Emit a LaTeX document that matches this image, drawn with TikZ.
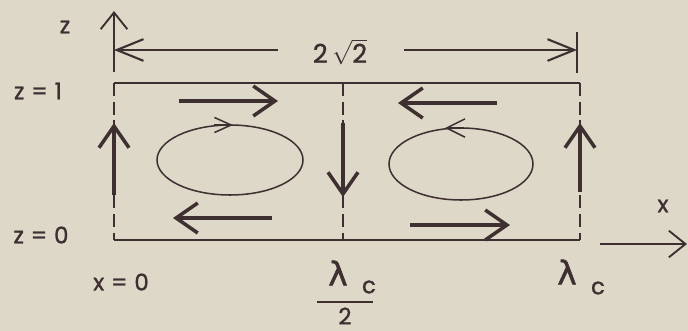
\documentclass[tikz,border=0pt]{standalone}
\usepackage{fontspec}
\setmainfont{Poppins}[FakeBold=1.2]
\newfontfamily\greekfont{DejaVu Sans}[FakeBold=1.5]
\usetikzlibrary{arrows.meta}
\definecolor{paper}{RGB}{222,216,201}
\definecolor{ink}{RGB}{62,48,48}
\newcommand{\eqgap}{\hspace{0.3em}=\hspace{0.3em}}

\begin{document}
\begin{tikzpicture}[
    x=0.03cm, y=-0.03cm,
    font=\fontsize{19.5}{22}\selectfont,
    >={Straight Barb[length=6.5mm,width=9mm]},
    box/.style={ink, line width=1.8pt},
    cut/.style={ink, line width=1.5pt, dash pattern=on 11pt off 5pt},
    flow/.style={->, ink, line width=3pt},
    dim/.style={ink, line width=1.8pt, -{Straight Barb[length=8mm,width=6.5mm]}},
    axis/.style={ink, line width=1.6pt, -{Straight Barb[length=5mm,width=8mm]}},
    roll/.style={ink, line width=1.3pt},
    lab/.style={ink, inner sep=0pt},
    lam/.style={ink, inner sep=0pt, font=\greekfont\fontsize{28}{30}\selectfont},
  ]

  %% ---- paper ----------------------------------------------------------
  \fill[paper] (0,0) rectangle (688,331);
  \useasboundingbox (0,0) rectangle (688,331);

  %% ---- the cell box ---------------------------------------------------
  \coordinate (TL) at (114,83);
  \coordinate (TM) at (343,83);
  \coordinate (TR) at (580,83);
  \coordinate (BL) at (114,240);
  \coordinate (BM) at (343,240);
  \coordinate (BR) at (580,240);

  \draw[box] (TL) -- (TR);
  \draw[box] (BL) -- (BR);
  \draw[cut] (TL) -- (BL);
  \draw[cut] (TM) -- (BM);
  \draw[cut] (TR) -- (BR);

  %% ---- flow along the walls -------------------------------------------
  \draw[flow] (114,195) -- (114,123);
  \draw[flow] (343,123) -- (343,197);
  \draw[flow] (580,192) -- (580,123);
  \draw[flow] (179,101) -- (278,101);
  \draw[flow] (497,103) -- (398,103);
  \draw[flow] (272,218) -- (173,218);
  \draw[flow] (410,225) -- (510,225);

  %% ---- the two rolls --------------------------------------------------
  \draw[roll] (230,160) ellipse [x radius=73, y radius=35];
  \draw[roll, -{Straight Barb[length=5mm,width=4.5mm]}] (214,125) -- (233,125);
  \draw[roll] (461,164) ellipse [x radius=72, y radius=36];
  \draw[roll, -{Straight Barb[length=5.5mm,width=5.5mm]}] (464,128) -- (445,128);

  %% ---- axes and the width ---------------------------------------------
  \draw[axis] (114,72) -- (114,11);
  \draw[axis] (600,244) -- (687,244);
  \node[lab, font=\fontsize{22}{24}\selectfont] (wd) at (340,52)
    {2\,$\sqrt{\mbox{2}}$};
  \draw[dim] (278,50) -- (114,50);
  \draw[dim] (404,50) -- (577,50);
  \draw[box] (577,32) -- (577,73);

  %% ---- labels ---------------------------------------------------------
  \node[lab] (zl) at (65,27)   {z};
  \node[lab] (z1) at (38,91)   {z\eqgap 1};
  \node[lab] (z0) at (41,235)  {z\eqgap 0};
  \node[lab] (x0) at (121,282) {x\eqgap 0};
  \node[lab] (xl) at (663,206) {x};

  \node[lam] (lh) at (338,273) {λ};
  \node[lab] (ch) at (369,287) {c};
  \draw[box] (317,302) -- (373,302);
  \node[lab] (th) at (345,316) {2};

  \node[lam] (lf) at (567,272) {λ};
  \node[lab] (cf) at (598,288) {c};

\end{tikzpicture}
\end{document}
